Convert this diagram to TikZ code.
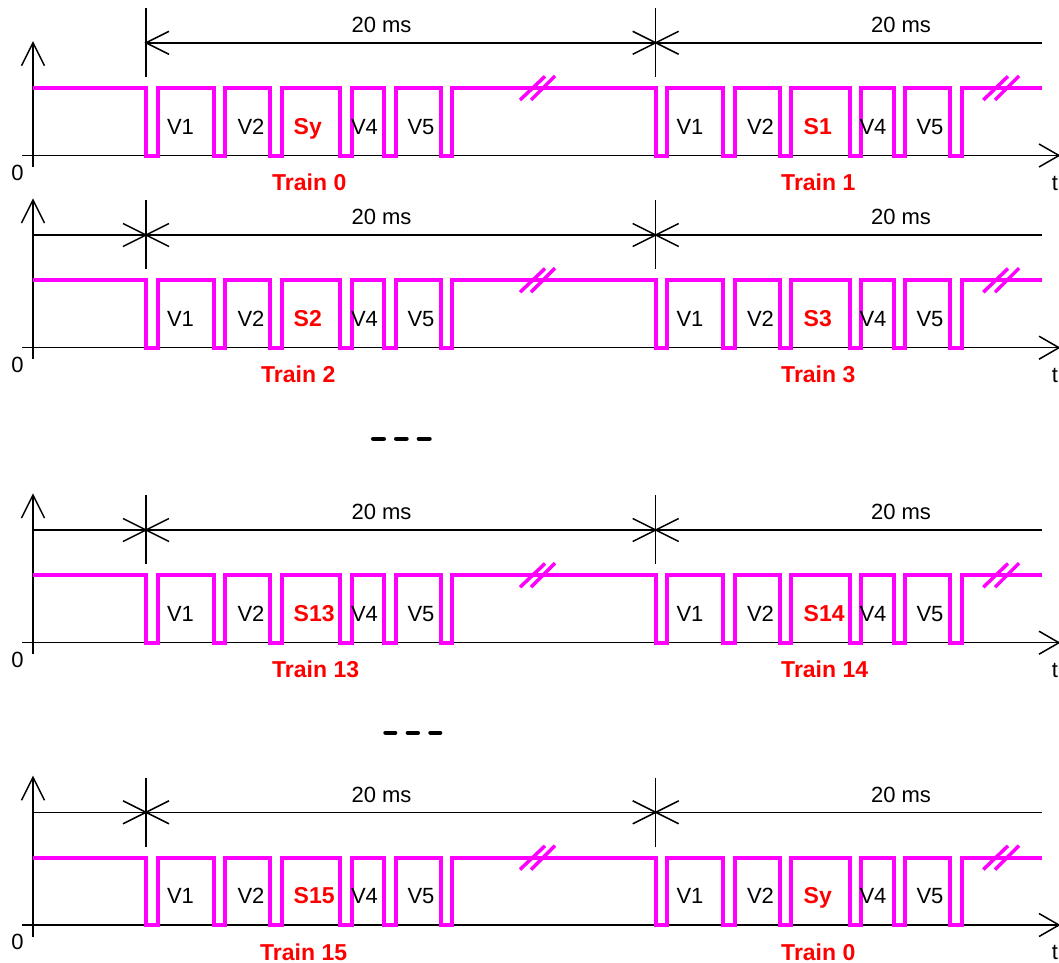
\documentclass[tikz,border=0pt]{standalone}
\usepackage{fontspec}
\setmainfont{Liberation Sans}
\definecolor{sigmag}{RGB}{255,0,255}
\newcommand\trainrow[7]{%
  % #1 baseline y, #2 row id, #3 left sync, #4 right sync,
  % #5 left train label, #6 its left x, #7 right train label
  \begin{scope}[shift={(0,#1)}]
    % time axis
    \draw[axis] (22,0) coordinate (#2t0) -- (1059,0) coordinate (#2t1);
    \draw[axis] (1039,-11.5) -- (#2t1) -- (1039,11.5);
    \node[lbl, anchor=base] (#2zero) at (17.5,24.5) {0};
    \node[lbl, anchor=base] (#2t) at (1055,34.5) {t};
    % frame boundaries
    \draw[axis] (146,-147.5) -- (146,-78.5);
    \draw[axis] (655.7,-147.5) -- (655.7,-78.5);
    % signal
    \draw[sig] (33,-67.5)
      \foreach \x in {146,213.5,270,340,384,440.7,655.7,723.2,779.7,849.7,893.7,950.4}
        { -| (\x,0) -| (\x+11.5,-67.5) } -- (1041.5,-67.5);
    % break marks
    \draw[brk] (520,-55.5) -- (545,-79.2);
    \draw[brk] (531,-55.5) -- (555,-79.5);
    \draw[brk] (983.3,-55.5) -- (1008,-79.2);
    \draw[brk] (995,-55.5) -- (1019,-79.5);
    % slot labels
    \node[lbl, anchor=base] (#2a1) at (180.5,-21.2) {V1};
    \node[lbl, anchor=base] (#2a2) at (251,-21.2) {V2};
    \node[syn, anchor=base west] (#2as) at (293.5,-21.2) {#3};
    \node[lbl, anchor=base] (#2a4) at (364.5,-21.2) {V4};
    \node[lbl, anchor=base] (#2a5) at (421,-21.2) {V5};
    \node[lbl, anchor=base] (#2b1) at (690,-21.2) {V1};
    \node[lbl, anchor=base] (#2b2) at (760.5,-21.2) {V2};
    \node[syn, anchor=base west] (#2bs) at (803.5,-21.2) {#4};
    \node[lbl, anchor=base] (#2b4) at (873,-21.2) {V4};
    \node[lbl, anchor=base] (#2b5) at (930,-21.2) {V5};
    \node[syn, anchor=base west] (#2ta) at (#6,35.2) {#5};
    \node[syn, anchor=base west] (#2tb) at (781,35.2) {#7};
    \node[lbl, anchor=base] (#2ma) at (381.5,-122.8) {20 ms};
    \node[lbl, anchor=base] (#2mb) at (901,-122.8) {20 ms};
  \end{scope}%
}
% value axis and period line with crossed ticks (rows 2 to 4)
\newcommand\fullperiod[1]{%
  \begin{scope}[shift={(0,#1)}]
    \draw[axis] (33,11.5) -- (33,-147.7) coordinate (ytip);
    \draw[axis] (21.5,-124.7) -- (ytip) -- (44.5,-124.7);
    \draw[axis] (33,-112.7) -- (1041.5,-112.7);
    \foreach \c in {146,655.7} {
      \draw[axis] (\c-23,-124.2) -- (\c+23,-101.2);
      \draw[axis] (\c-23,-101.2) -- (\c+23,-124.2);
    }
  \end{scope}%
}
\begin{document}
\begin{tikzpicture}[x=1pt,y=-1pt,
  axis/.style={line width=1.5pt, black, line cap=butt},
  sig/.style={line width=4pt, sigmag, line join=miter},
  brk/.style={line width=3.5pt, sigmag},
  lbl/.style={inner sep=0pt, font=\fontsize{22}{24}\selectfont},
  syn/.style={inner sep=0pt, text=red, font=\fontsize{23}{25}\selectfont\bfseries},
  gap/.style={line width=4pt, black, line cap=round}]
\useasboundingbox (0,0) rectangle (1059,962);

% first row: value axis and period line starting at the first frame
\begin{scope}[shift={(0,155.5)}]
  \draw[axis] (33,11.5) -- (33,-112.8) coordinate (ytip0);
  \draw[axis] (21.5,-89.8) -- (ytip0) -- (44.5,-89.8);
  \draw[axis] (146,-112.7) coordinate (p0) -- (1041.5,-112.7);
  \draw[axis] (169,-124.2) -- (p0) -- (169,-101.2);
  \draw[axis] (655.7-23,-124.2) -- (655.7+23,-101.2);
  \draw[axis] (655.7-23,-101.2) -- (655.7+23,-124.2);
\end{scope}
\trainrow{155.5}{r1}{Sy}{S1}{Train 0}{272}{Train 1}

\fullperiod{347.7}
\trainrow{347.7}{r2}{S2}{S3}{Train 2}{261}{Train 3}

\fullperiod{642.7}
\trainrow{642.7}{r3}{S13}{S14}{Train 13}{272}{Train 14}

\fullperiod{925}
\trainrow{925}{r4}{S15}{Sy}{Train 15}{260}{Train 0}

% omitted rows
\draw[gap] (373,438.7) -- (384,438.7);
\draw[gap] (396,438.7) -- (406.7,438.7);
\draw[gap] (418.7,438.7) -- (429.7,438.7);
\draw[gap] (385.3,732.7) -- (395.3,732.7);
\draw[gap] (407.7,732.7) -- (418,732.7);
\draw[gap] (430.3,732.7) -- (440.3,732.7);
\end{tikzpicture}
\end{document}
